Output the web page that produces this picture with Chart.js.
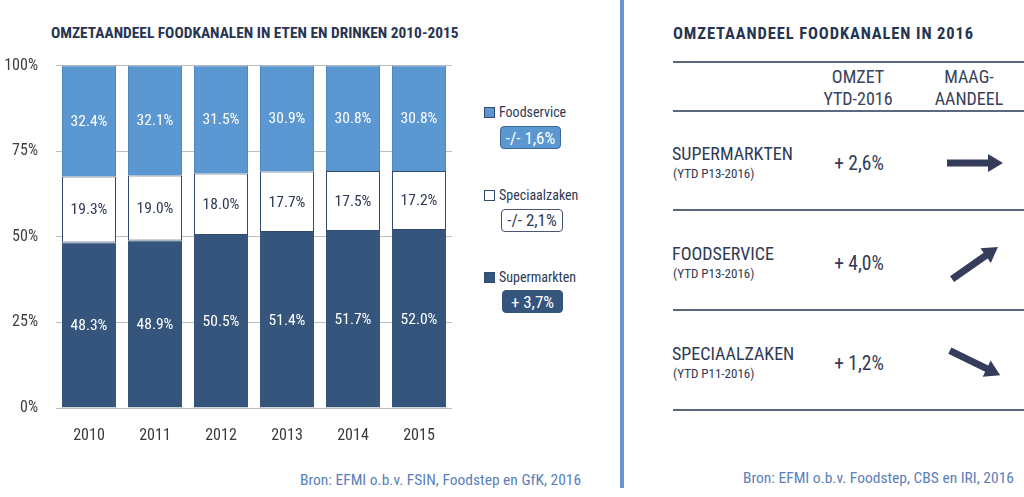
<!DOCTYPE html>
<html><head><meta charset="utf-8">
<script src="https://cdn.jsdelivr.net/npm/chart.js@4.4.1/dist/chart.umd.min.js"></script>
<style>
html,body{margin:0;padding:0;background:#fff;width:1024px;height:497px;overflow:hidden;}
body{position:relative;font-family:'Roboto Condensed',sans-serif;color:#2d3a55;}
.abs{position:absolute;white-space:nowrap;}
.cy{transform:translateY(-50%);}
.cxy{transform:translate(-50%,-50%);}
.title{font-weight:bold;font-size:15.4px;color:#263552;}
.title2{font-weight:bold;font-size:16.5px;letter-spacing:0.9px;color:#263552;}
.src{font-size:15.5px;color:#5b80b8;}
.hline{position:absolute;height:2px;background:#5c6880;left:673px;width:351px;}
.sq{position:absolute;width:9px;height:9px;border:1px solid #2f4a6e;}
.lgt{font-size:14px;color:#2d3a55;}
.badge{position:absolute;border-radius:4px;font-size:17px;display:flex;align-items:center;justify-content:center;box-sizing:border-box;}
.rowlab{font-size:18px;color:#2f3a55;}
.rowsub{font-size:13px;color:#2f3a55;}
.val{font-size:19.5px;color:#2f3a55;}
.hdr{font-size:18px;color:#38425c;text-align:center;line-height:22px;}
</style></head>
<body>
<div class="abs cy title" style="left:51px;top:33px;">OMZETAANDEEL FOODKANALEN IN ETEN EN DRINKEN 2010-2015</div>
<div class="abs" style="left:0;top:38px;width:460px;height:422px;"><canvas id="c" width="460" height="422"></canvas></div>
<div id="legend"></div>
<div class="abs cy src" style="left:300px;top:480px;">Bron: EFMI o.b.v. FSIN, Foodstep en GfK, 2016</div>
<div style="position:absolute;left:620px;top:0;width:4px;height:488px;background:#6596cf;"></div>
<div class="abs cy title2" style="left:673px;top:33px;">OMZETAANDEEL FOODKANALEN IN 2016</div>
<div id="table"></div>
<div class="abs cy src" style="left:743px;top:478px;">Bron: EFMI o.b.v. Foodstep, CBS en IRI, 2016</div>
<script>
// ---- data ----
const years = ['2010','2011','2012','2013','2014','2015'];
const supermarkten = [48.3, 48.9, 50.5, 51.4, 51.7, 52.0];
const speciaalzaken = [19.3, 19.0, 18.0, 17.7, 17.5, 17.2];
const foodservice = [32.4, 32.1, 31.5, 30.9, 30.8, 30.8];
const yTicks = [0, 25, 50, 75, 100];
const legendNames = ['Foodservice', 'Speciaalzaken', 'Supermarkten'];
const legendChanges = ['-/- 1,6%', '-/- 2,1%', '+ 3,7%'];
const channels2016 = ['SUPERMARKTEN', 'FOODSERVICE', 'SPECIAALZAKEN'];
const periods2016 = ['(YTD P13-2016)', '(YTD P13-2016)', '(YTD P11-2016)'];
const omzet2016 = ['+ 2,6%', '+ 4,0%', '+ 1,2%'];
const shareTrendDeg = [0, -35, 26];
const headers2016 = [['OMZET','YTD-2016'],['MAAG-','AANDEEL']];

// ---- styles ----
const cLight = '#5b97d1', cDark = '#35557d', cBorder = '#2f4a6e';
const FONT = "'Roboto Condensed',sans-serif";

const labelPlugin = {
  id: 'segLabels',
  afterDatasetsDraw(chart) {
    const ctx = chart.ctx;
    ctx.save();
    ctx.font = '15.5px ' + FONT;
    ctx.textAlign = 'center';
    ctx.textBaseline = 'middle';
    chart.data.datasets.forEach((ds, i) => {
      const meta = chart.getDatasetMeta(i);
      meta.data.forEach((el, j) => {
        ctx.fillStyle = ds.labelColor;
        ctx.fillText(ds.data[j].toFixed(1) + '%', el.x, (el.y + el.base) / 2 + 1);
      });
    });
    ctx.restore();
  }
};

new Chart(document.getElementById('c'), {
  type: 'bar',
  data: {
    labels: years,
    datasets: [
      {label: 'Supermarkten', data: supermarkten, backgroundColor: cDark, borderColor: cDark, borderWidth: 1, labelColor: '#ffffff'},
      {label: 'Speciaalzaken', data: speciaalzaken, backgroundColor: '#ffffff', borderColor: cBorder, borderWidth: 1, borderSkipped: false, labelColor: '#2d3a55'},
      {label: 'Foodservice', data: foodservice, backgroundColor: cLight, borderColor: '#4f86be', borderWidth: 1, labelColor: '#ffffff'}
    ]
  },
  options: {
    responsive: false,
    devicePixelRatio: 1,
    animation: false,
    layout: {padding: {top: 2, right: 8, left: 0, bottom: 0}},
    plugins: {legend: {display: false}, tooltip: {enabled: false}},
    datasets: {bar: {barPercentage: 0.818, categoryPercentage: 1}},
    scales: {
      x: {
        stacked: true,
        grid: {display: false, drawTicks: false},
        border: {display: false},
        ticks: {padding: 18, color: '#3a3a3a', font: {family: FONT, size: 16}},
        afterFit(s) { s.height = 52; }
      },
      y: {
        stacked: true, min: 0, max: 100,
        afterBuildTicks(s) { s.ticks = yTicks.map(v => ({value: v})); },
        grid: {color: '#bdbdbd', drawTicks: false, lineWidth: 1},
        border: {display: false},
        ticks: {padding: 18, color: '#3f3f3f', font: {family: FONT, size: 16}, callback: v => v + '%'},
        afterFit(s) { s.width = 56; }
      }
    }
  },
  plugins: [labelPlugin]
});

// ---- legend ----
const lg = document.getElementById('legend');
const lgY = [112, 195, 277];
const lgFill = [cLight, '#ffffff', cDark];
const bdY = [137.5, 220, 301.5];
const bdX = [500, 501, 502];
const bdW = [61, 62, 61];
const bdFill = [cLight, '#ffffff', cDark];
const bdText = ['#ffffff', '#2d3a55', '#ffffff'];
const bdBorder = ['#3d6796', '#4a5670', cDark];
legendNames.forEach((n, i) => {
  lg.insertAdjacentHTML('beforeend',
    `<div class="sq" style="left:484px;top:${lgY[i]-5}px;background:${lgFill[i]}"></div>` +
    `<div class="abs cy lgt" style="left:499px;top:${lgY[i]}px">${n}</div>` +
    `<div class="badge" style="left:${bdX[i]}px;top:${bdY[i]-11.5}px;width:${bdW[i]}px;height:23px;background:${bdFill[i]};color:${bdText[i]};border:1.5px solid ${bdBorder[i]}">${legendChanges[i]}</div>`);
});

// ---- right table ----
const tb = document.getElementById('table');
[62, 111, 210, 310, 410].forEach(y => tb.insertAdjacentHTML('beforeend', `<div class="hline" style="top:${y-1}px"></div>`));
const hdrX = [858, 969];
headers2016.forEach((h, i) => {
  tb.insertAdjacentHTML('beforeend', `<div class="abs cxy hdr" style="left:${hdrX[i]}px;top:88px">${h[0]}<br>${h[1]}</div>`);
});
const rowY = [163, 263, 363];
channels2016.forEach((c, i) => {
  const y = rowY[i];
  tb.insertAdjacentHTML('beforeend',
    `<div class="abs cy rowlab" style="left:672px;top:${y-10}px">${c}</div>` +
    `<div class="abs cy rowsub" style="left:673px;top:${y+10}px">${periods2016[i]}</div>` +
    `<div class="abs cxy val" style="left:859px;top:${y}px">${omzet2016[i]}</div>` +
    `<svg class="abs" style="left:935px;top:${y-40}px" width="80" height="80" viewBox="-40 -40 80 80">` +
    `<g transform="rotate(${shareTrendDeg[i]})"><path d="M-28,-3.5 L13,-3.5 L13,-9 L28,0 L13,9 L13,3.5 L-28,3.5 Z" fill="#363d5c"/></g></svg>`);
});
</script>
</body></html>
